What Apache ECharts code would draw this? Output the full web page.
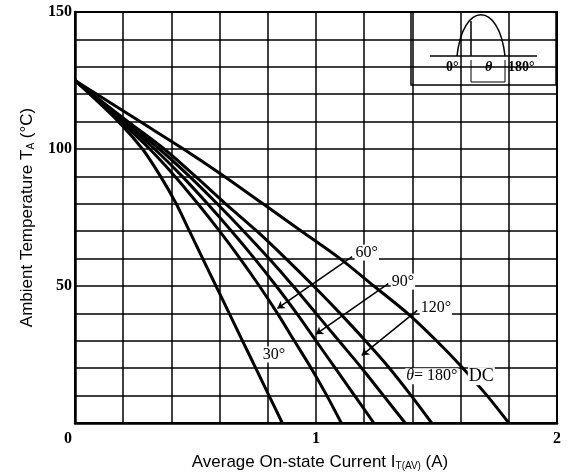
<!DOCTYPE html>
<html>
<head>
<meta charset="utf-8">
<script src="https://cdn.jsdelivr.net/npm/echarts@6/dist/echarts.min.js"></script>
<style>
html, body { margin: 0; background: #fff; }
#chart { width: 570px; height: 476px; }
</style>
</head>
<body>
<div id="chart"></div>
<script>
// ambient temperature (°C) at which each current was read
var temps = [125, 110, 100, 90, 80, 70, 60, 50, 40, 30, 20, 10, 0];
// average on-state current (A) at those temperatures
var cur30 = [0, 0.18, 0.28, 0.355, 0.42, 0.475, 0.53, 0.585, 0.64, 0.695, 0.75, 0.805, 0.86];
var cur60 = [0, 0.19, 0.31, 0.415, 0.51, 0.60, 0.685, 0.765, 0.84, 0.91, 0.98, 1.045, 1.105];
var cur90 = [0, 0.20, 0.33, 0.445, 0.55, 0.65, 0.745, 0.835, 0.92, 1.00, 1.08, 1.16, 1.24];
var cur120 = [0, 0.21, 0.35, 0.475, 0.59, 0.70, 0.805, 0.905, 1.00, 1.095, 1.19, 1.28, 1.37];
var cur180 = [0, 0.22, 0.37, 0.50, 0.625, 0.755, 0.875, 0.99, 1.10, 1.205, 1.305, 1.395, 1.48];
var curDC = [0, 0.27, 0.45, 0.62, 0.78, 0.94, 1.10, 1.24, 1.38, 1.50, 1.61, 1.71, 1.80];
var curveNames = ['30°', '60°', '90°', '120°', '180°', 'DC'];
var curves = [cur30, cur60, cur90, cur120, cur180, curDC];

var serif = 'Liberation Serif';
var sans = 'Liberation Sans';

var myChart = echarts.init(document.getElementById('chart'));

var series = curves.map(function (c, k) {
    return {
        name: curveNames[k],
        type: 'line',
        smooth: 0.3,
        symbol: 'none',
        lineStyle: { color: '#000', width: 3 },
        data: temps.map(function (t, i) { return [c[i], t]; }),
        z: 3
    };
});

// pointer lines and curve labels
series[0].markLine = {
    silent: true,
    symbol: ['none', 'arrow'],
    symbolSize: 7,
    lineStyle: { color: '#000', width: 1.5, type: 'solid' },
    label: { show: false },
    data: [
        [{ coord: [1.15, 60.7] }, { coord: [0.84, 41.8] }],
        [{ coord: [1.30, 50.9] }, { coord: [1.00, 32.4] }],
        [{ coord: [1.42, 41.1] }, { coord: [1.19, 24.7] }]
    ]
};
series[0].markPoint = {
    silent: true,
    symbol: 'circle',
    symbolSize: 0,
    label: {
        show: true,
        position: 'right',
        distance: 0,
        color: '#000',
        fontFamily: serif,
        fontSize: 16,
        backgroundColor: '#fff',
        padding: [0, 1],
        formatter: function (p) { return p.name; },
        rich: {
            i: { fontFamily: serif, fontSize: 16, fontStyle: 'italic', color: '#000' },
            b: { fontFamily: serif, fontSize: 18, color: '#000' }
        }
    },
    data: [
        { name: '60°', coord: [1.16, 62.2] },
        { name: '90°', coord: [1.31, 51.6] },
        { name: '120°', coord: [1.43, 42.2] },
        { name: '30°', coord: [0.775, 25] },
        { name: '{i|θ}= 180°', coord: [1.37, 17.1] },
        { name: '{b|DC}', coord: [1.63, 17.1] }
    ]
};

var subStyle = { fontFamily: sans, fontSize: 10, color: '#000', verticalAlign: 'bottom', padding: [7, 0, 0, 0] };

var option = {
    animation: false,
    grid: {
        left: 75, right: 13, top: 12, bottom: 52,
        show: true, borderColor: '#000', borderWidth: 2
    },
    xAxis: {
        type: 'value',
        min: 0, max: 2, interval: 1,
        name: 'Average On-state Current I{s|T(AV)} (A)',
        nameLocation: 'middle',
        nameGap: 31,
        nameTextStyle: {
            fontFamily: sans, fontSize: 17, color: '#000',
            padding: [0, 0, 0, 8],
            rich: { s: subStyle }
        },
        axisLine: { lineStyle: { color: '#000', width: 2.5 } },
        axisTick: { show: false },
        axisLabel: {
            color: '#000', fontFamily: serif, fontWeight: 'bold', fontSize: 16, margin: 8,
            formatter: function (v) { return v === 0 ? '{z|0}' : v; },
            rich: { z: { fontFamily: serif, fontWeight: 'bold', fontSize: 16, color: '#000', padding: [0, 14, 0, 0] } }
        },
        splitLine: { lineStyle: { color: '#000', width: 1.5 } },
        minorTick: { show: false, splitNumber: 5 },
        minorSplitLine: { show: true, lineStyle: { color: '#000', width: 1.5 } }
    },
    yAxis: {
        type: 'value',
        min: 0, max: 150, interval: 50,
        name: 'Ambient Temperature T{s|A} (°C)',
        nameLocation: 'middle',
        nameGap: 39,
        nameTextStyle: {
            fontFamily: sans, fontSize: 17, color: '#000',
            rich: { s: subStyle }
        },
        axisLine: { lineStyle: { color: '#000', width: 2.5 } },
        axisTick: { show: false },
        axisLabel: {
            color: '#000', fontFamily: serif, fontWeight: 'bold', fontSize: 16, margin: 3,
            formatter: function (v) { return v === 0 ? '' : v; }
        },
        splitLine: { lineStyle: { color: '#000', width: 1.5 } },
        minorTick: { show: false, splitNumber: 5 },
        minorSplitLine: { show: true, lineStyle: { color: '#000', width: 1.5 } }
    },
    // conduction angle sketch in the top right corner
    graphic: [
        {
            type: 'group', z: 10,
            children: [
                { type: 'rect', shape: { x: 411, y: 12, width: 145, height: 73 },
                  style: { fill: '#fff', stroke: '#000', lineWidth: 1.5 } },
                { type: 'line', shape: { x1: 430, y1: 56, x2: 537, y2: 56 },
                  style: { stroke: '#000', lineWidth: 1.5 } },
                { type: 'bezierCurve',
                  shape: { x1: 457, y1: 56, cpx1: 463, cpy1: 1, cpx2: 499, cpy2: 1, x2: 505, y2: 56 },
                  style: { fill: null, stroke: '#000', lineWidth: 1.5 } },
                { type: 'line', shape: { x1: 471, y1: 21, x2: 471, y2: 56 },
                  style: { stroke: '#000', lineWidth: 1.5 } },
                { type: 'polyline', shape: { points: [[471, 60], [471, 82], [505, 82], [505, 60]] },
                  style: { fill: null, stroke: '#000', lineWidth: 1 } },
                { type: 'text', x: 446, y: 60,
                  style: { text: '0°', fontFamily: serif, fontWeight: 'bold', fontSize: 14, fill: '#000' } },
                { type: 'text', x: 485, y: 60,
                  style: { text: 'θ', fontFamily: serif, fontStyle: 'italic', fontWeight: 'bold', fontSize: 14, fill: '#000' } },
                { type: 'text', x: 508, y: 60,
                  style: { text: '180°', fontFamily: serif, fontWeight: 'bold', fontSize: 14, fill: '#000' } }
            ]
        }
    ],
    series: series
};

myChart.setOption(option);
</script>
</body>
</html>
